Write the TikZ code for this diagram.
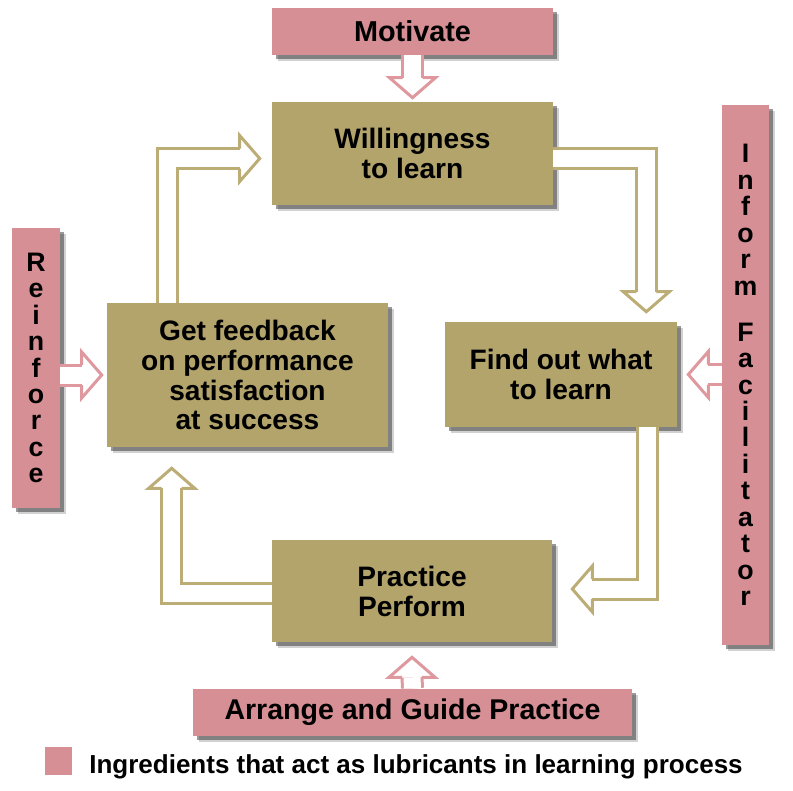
\documentclass[tikz,border=0pt]{standalone}
\usepackage{fontspec}
\setmainfont{Liberation Sans}
\usetikzlibrary{calc,shadows}

\definecolor{boxkhaki}{RGB}{179,164,107}
\definecolor{arrkhaki}{RGB}{188,173,118}
\definecolor{boxpink}{RGB}{214,143,148}
\definecolor{arrpink}{RGB}{222,152,158}

\newcommand\stagefont{\fontsize{20}{21.3}\selectfont\bfseries}
\newcommand\lubefont{\fontsize{20.5}{22}\selectfont\bfseries}
\newcommand\letterfont{\fontsize{19}{18.8}\selectfont\bfseries}
\newcommand\keyfont{\fontsize{18.5}{20}\selectfont\bfseries}

\tikzset{
  hhead/.pic={\draw (-20,10) -- (-20,23) -- (0,0) -- (-20,-23) -- (-20,-10);}
}

\begin{document}
\begin{tikzpicture}[
  x=0.025cm, y=0.025cm,
  shad/.style={drop shadow={shadow xshift=0.16cm, shadow yshift=-0.16cm, fill=black!60, opacity=0.3},
               drop shadow={shadow xshift=0.1cm, shadow yshift=-0.1cm, fill=black!80, opacity=0.5}},
  stage/.style={fill=boxkhaki, shad, align=center, inner sep=0pt, font=\stagefont},
  lube/.style={fill=boxpink, shad, align=center, inner sep=0pt, font=\lubefont},
  kshaft/.style={draw=arrkhaki, line width=0.075cm, double=white, double distance=0.425cm},
  pshaft/.style={draw=arrpink, line width=0.075cm, double=white, double distance=0.425cm},
  kline/.style={color=arrkhaki, line width=0.075cm},
  pline/.style={color=arrpink, line width=0.075cm}
]
\useasboundingbox (0,0) rectangle (793,-790);

% learning cycle
\node[stage, minimum width=7.025cm, minimum height=2.575cm] (will) at (412.5,-153.5) {Willingness\\to learn};
\node[stage, minimum width=5.8cm, minimum height=2.625cm] (findout) at (561,-374.5) {Find out what\\to learn};
\node[stage, minimum width=7cm, minimum height=2.55cm] (practice) at (412,-591) {Practice\\Perform};
\node[stage, minimum width=7.025cm, minimum height=3.6cm] (feedback) at (247.5,-375) {Get feedback\\on performance\\satisfaction\\at success};

% lubricants
\node[lube, minimum width=7.025cm, minimum height=1.175cm] (motivate) at (412.5,-31.5) {Motivate};
\node[lube, minimum width=10.975cm, minimum height=1.175cm, font=\fontsize{20.3}{22}\selectfont\bfseries] (arrange) at (412.5,-712) {Arrange and Guide Practice};
\node[lube, minimum width=1.2cm, minimum height=7cm, font=\letterfont] (reinforce) at (36,-368) {R\\e\\i\\n\\f\\o\\r\\c\\e};
\node[lube, minimum width=1.175cm, minimum height=13.5cm, font=\letterfont] (inform) at (745.5,-375) {I\\n\\f\\o\\r\\m\\[14pt]F\\a\\c\\i\\l\\i\\t\\a\\t\\o\\r};

% legend
\node[fill=boxpink, minimum width=0.675cm, minimum height=0.7cm, inner sep=0pt] (key) at (58.5,-761) {};
\node[anchor=base west, inner sep=0pt, font=\keyfont] (keytext) at (89,-773) {Ingredients that act as lubricants in learning process};

% cycle arrows
\coordinate (wf) at ($(findout.north east)+(-31,30)$);
\draw[kshaft] ($(will.east)+(0,-5)$) -| (wf);
\pic[kline, rotate=-90] at ($(findout.north east)+(-31,10)$) {hhead};

\coordinate (fp) at ($(practice.east)+(40,2)$);
\draw[kshaft] ($(findout.south east)+(-30,0)$) |- (fp);
\pic[kline, rotate=180] at ($(practice.east)+(20,2)$) {hhead};

\coordinate (pf) at ($(feedback.south west)+(65,-41)$);
\draw[kshaft] ($(practice.west)+(0,-2)$) -| (pf);
\pic[kline, rotate=90] at ($(feedback.south west)+(65,-21)$) {hhead};

\coordinate (fw) at ($(will.west)+(-32,-5)$);
\draw[kshaft] ($(feedback.north west)+(61,0)$) |- (fw);
\pic[kline] at ($(will.west)+(-12,-5)$) {hhead};

% lubricant arrows
\draw[pshaft] (motivate.south) -- ($(will.north)+(0,24)$);
\pic[pline, rotate=-90] at ($(will.north)+(0,4)$) {hhead};

\draw[pshaft] (reinforce.east |- feedback.west) -- ($(feedback.west)+(-25,0)$);
\pic[pline] at ($(feedback.west)+(-5,0)$) {hhead};

\draw[pshaft] (inform.west |- findout.east) -- ($(findout.east)+(31,0)$);
\pic[pline, rotate=180] at ($(findout.east)+(11,0)$) {hhead};

\draw[pshaft] (arrange.north) -- ($(practice.south)+(0,-35)$);
\pic[pline, rotate=90] at ($(practice.south)+(0,-15)$) {hhead};
\end{tikzpicture}
\end{document}
